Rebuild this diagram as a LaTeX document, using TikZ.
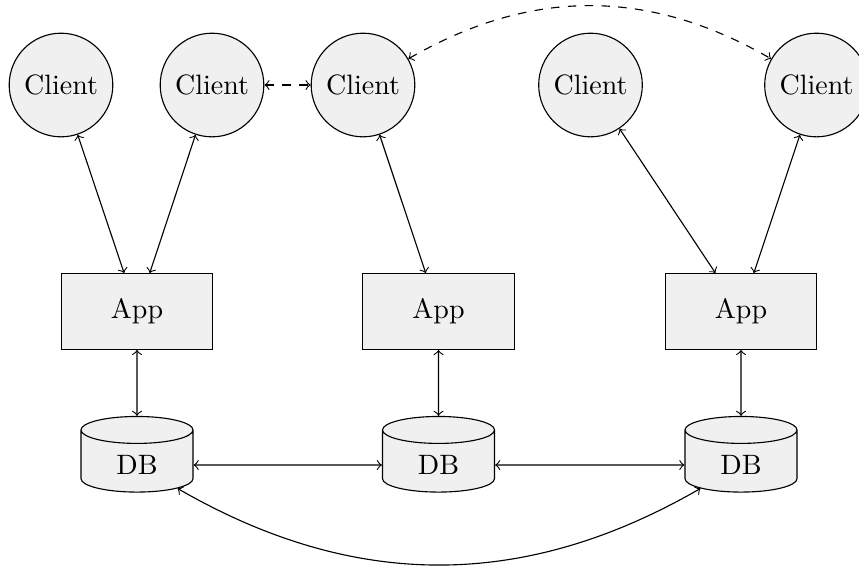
\documentclass[tikz,border=0pt]{standalone}
\usetikzlibrary{shapes.geometric}
\begin{document}
\begin{tikzpicture}[x=0.357pt,y=-0.357pt,
  client/.style={circle,draw,fill=gray!12,minimum size=37pt,inner sep=1pt},
  app/.style={rectangle,draw,fill=gray!12,minimum width=54pt,minimum height=27pt},
  db/.style={cylinder,shape border rotate=90,draw,fill=gray!12,aspect=0.45,minimum width=40pt,minimum height=27pt},
  link/.style={<->},
  peer/.style={<->,dashed}]
\useasboundingbox (0,0) rectangle (859,568);
\node[client] (c1) at (61,85) {Client};
\node[client] (c2) at (212,85) {Client};
\node[client] (c3) at (363,85) {Client};
\node[client] (c4) at (590.5,85) {Client};
\node[client] (c5) at (816.5,85) {Client};
\node[app] (a1) at (137,311.5) {App};
\node[app] (a2) at (438.5,311.5) {App};
\node[app] (a3) at (741,311.5) {App};
\node[db] (d1) at (137,465) {DB};
\node[db] (d2) at (438.5,465) {DB};
\node[db] (d3) at (741,465) {DB};
\draw[link] (c1) -- (a1);
\draw[link] (c2) -- (a1);
\draw[link] (c3) -- (a2);
\draw[link] (c4) -- (a3);
\draw[link] (c5) -- (a3);
\draw[link] (a1) -- (d1);
\draw[link] (a2) -- (d2);
\draw[link] (a3) -- (d3);
\draw[link] (d1) -- (d2);
\draw[link] (d2) -- (d3);
\draw[link] (d1) to[bend right=30] (d3);
\draw[peer] (c2) -- (c3);
\draw[peer] (c3) to[bend left=30] (c5);
\end{tikzpicture}
\end{document}
